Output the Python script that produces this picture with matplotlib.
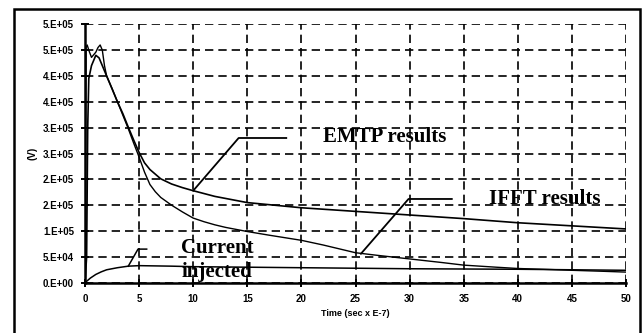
import numpy as np
import matplotlib
matplotlib.use("Agg")
import matplotlib.pyplot as plt
from matplotlib.patches import Rectangle
from matplotlib.ticker import FuncFormatter, MultipleLocator

# ------------------------------------------------------------------
# Datos (tiempo en unidades de 1E-7 s, tensión en V)
# ------------------------------------------------------------------
t_emtp = [0, 0.15, 0.25, 0.35, 0.6, 1.0, 1.3, 1.7, 2.0, 2.5, 3.0, 3.5, 4.0,
          4.5, 5.0, 5.5, 6.0, 7.0, 8.0, 9.0, 10, 12, 15, 20, 25, 30, 35, 40,
          45, 50]
v_emtp = [0, 50000, 300000, 395000, 420000, 440000, 435000, 415000, 400000,
          375000, 350000, 327000, 301000, 276000, 252000, 232000, 219000,
          201000, 191000, 184000, 178000, 167000, 155000, 145000, 138000,
          131000, 124000, 116000, 110000, 104000]

t_ifft = [0, 0.05, 0.1, 0.2, 0.4, 0.6, 0.8, 1.0, 1.2, 1.4, 1.6, 1.8, 2.0,
          2.5, 3.0, 3.5, 4.0, 4.5, 5.0, 5.5, 6.0, 6.5, 7.0, 8.0, 9.0, 10, 11,
          12, 13, 14, 15, 17, 20, 22, 25, 27, 30, 33, 35, 38, 40, 43, 45, 48,
          50]
v_ifft = [0, 200000, 455000, 460000, 447000, 436000, 441000, 446000, 455000,
          460000, 450000, 420000, 400000, 376000, 350000, 324000, 298000,
          270000, 243000, 214000, 190000, 176000, 165000, 150000, 137000,
          125000, 118000, 112000, 107000, 103000, 99000, 92000, 82000, 73000,
          58000, 53000, 46000, 39000, 34000, 30000, 27500, 25500, 24000,
          22000, 20500]

t_current = [0, 0.5, 1.0, 1.5, 2.0, 3.0, 4.0, 5.0, 8.0, 10, 15, 20, 30, 40,
             45, 50]
v_current = [0, 9000, 16000, 21000, 25000, 29000, 32000, 33000, 32000, 31000,
             30000, 29000, 27000, 26000, 25000, 24000]

label_emtp = "EMTP results"
label_ifft = "IFFT results"
label_current = ["Current", "injected"]

x_label = "Time (sec x E-7)"
y_label = "(V)"


def excel_sci(v, pos):
    """Imita el formato '0.E+00' de Excel (redondeo hacia arriba en .5)."""
    if v == 0:
        return "0.E+00"
    exp = int(np.floor(np.log10(abs(v)) + 1e-9))
    mant = int(np.floor(v / 10 ** exp + 0.5 + 1e-9))
    if mant == 10:
        mant, exp = 1, exp + 1
    return f"{mant}.E+{exp:02d}"


fig = plt.figure(figsize=(6.42, 3.33), dpi=100)
ax = fig.add_axes([85 / 642, 1 - 282.7 / 333, (626 - 85) / 642,
                   (282.7 - 24.3) / 333])

# Curvas
ax.plot(t_emtp, v_emtp, color="black", lw=1.2)
ax.plot(t_ifft, v_ifft, color="black", lw=1.0)
ax.plot(t_current, v_current, color="black", lw=1.1)

ax.set_xlim(0, 50)
ax.set_ylim(0, 500000)
ax.xaxis.set_major_locator(MultipleLocator(5))
ax.yaxis.set_major_locator(MultipleLocator(50000))
ax.yaxis.set_major_formatter(FuncFormatter(excel_sci))
ax.xaxis.set_major_formatter(FuncFormatter(lambda v, p: f"{int(v)}"))

ax.grid(True, color="black", linestyle=(0, (5, 3)), lw=1.2)
for side in ("top", "right"):
    ax.spines[side].set_visible(False)
for side in ("left", "bottom"):
    ax.spines[side].set_linewidth(1.8)
ax.tick_params(direction="inout", length=6, width=1.4, pad=5)
for lab in ax.get_xticklabels() + ax.get_yticklabels():
    lab.set_fontfamily("Liberation Sans")
    lab.set_fontweight("bold")
    lab.set_fontsize(7)

ax.set_xlabel(x_label, fontsize=6.5, fontweight="bold",
              fontfamily="Liberation Sans", labelpad=4)
ax.set_ylabel(y_label, fontsize=7, fontweight="bold",
              fontfamily="Liberation Sans", labelpad=4)

# Textos con líneas indicadoras
txt_kw = dict(fontfamily="Liberation Serif", fontweight="bold", fontsize=15,
              ha="center", va="center", color="black")
ax.plot([10, 14.2, 18.6], [178000, 280000, 280000], color="black", lw=1.3)
ax.text(27.7, 282000, label_emtp, **txt_kw)

ax.plot([25.5, 29.9, 33.9], [56000, 162000, 162000], color="black", lw=1.3)
ax.text(42.5, 162000, label_ifft, **txt_kw)

ax.plot([4.0, 4.9, 5.7], [32000, 65000, 65000], color="black", lw=1.1)
ax.text(12.2, 67000, label_current[0], **txt_kw)
ax.text(12.2, 21000, label_current[1], **txt_kw)

# Marco exterior del gráfico
fig.patches.append(Rectangle((14 / 642, -0.02), (640 - 14) / 642,
                             1 - 9 / 333 + 0.02, transform=fig.transFigure,
                             fill=False, edgecolor="black", lw=1.8))

fig.savefig("out.png", dpi=100)
